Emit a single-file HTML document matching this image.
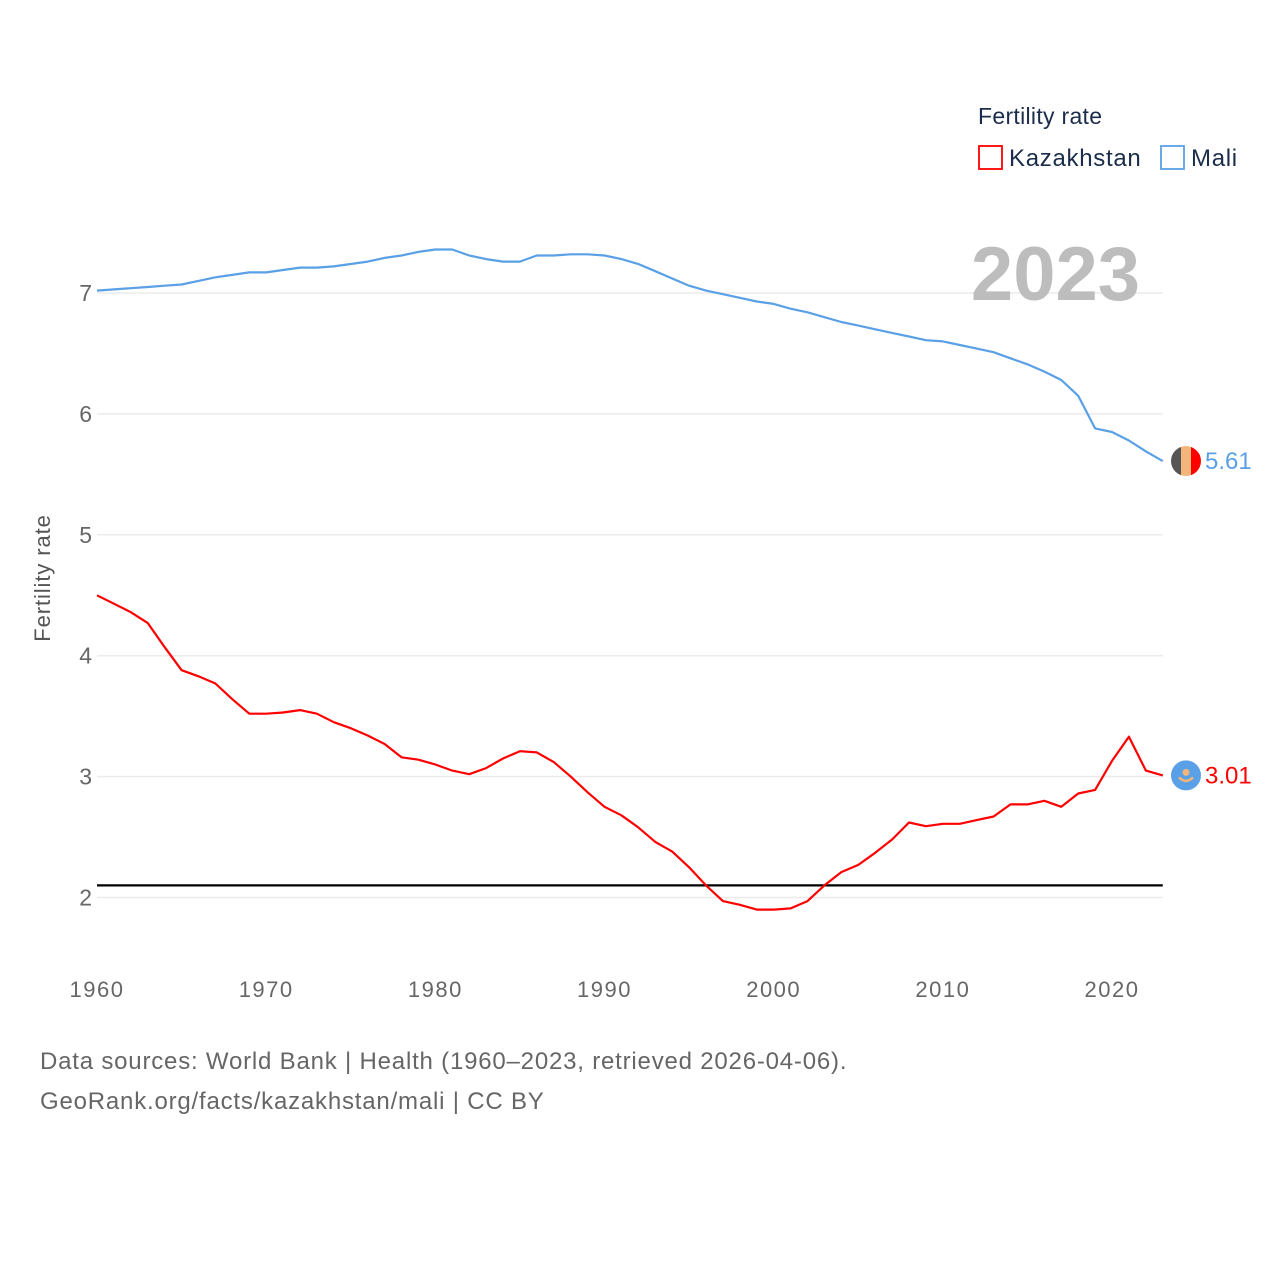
<!DOCTYPE html>
<html><head><meta charset="utf-8"><style>
body{margin:0;background:#fff;}
svg text{font-family:"Liberation Sans",sans-serif;}
</style></head><body>
<svg id="chart" width="1280" height="1280" xmlns="http://www.w3.org/2000/svg">
<rect width="1280" height="1280" fill="#fff"/>
<g id="grid"></g>
<g id="yticks"></g>
<g id="xticks"></g>
<text x="50" y="578" transform="rotate(-90 50 578)" text-anchor="middle" font-size="22" letter-spacing="0.9" fill="#555">Fertility rate</text>
<text x="1140" y="300" text-anchor="end" font-size="76" font-weight="bold" fill="#bdbdbd">2023</text>
<g id="series"></g>
<g>
<text x="978" y="124" font-size="23" letter-spacing="0.3" fill="#1b2d4a">Fertility rate</text>
<g><rect x="979" y="146" width="23" height="23" fill="none" stroke="#f00" stroke-width="1.8"/><text x="1009" y="166" font-size="24" letter-spacing="0.7" fill="#1b2d4a">Kazakhstan</text></g>
<g><rect x="1161" y="146" width="23" height="23" fill="none" stroke="#5aa0e6" stroke-width="1.8"/><text x="1191" y="166" font-size="24" letter-spacing="0.7" fill="#1b2d4a">Mali</text></g>
</g>
<text x="40" y="1069" font-size="24" letter-spacing="0.8" fill="#666">Data sources: World Bank | Health (1960–2023, retrieved 2026-04-06).</text>
<text x="40" y="1109" font-size="24" letter-spacing="0.8" fill="#666">GeoRank.org/facts/kazakhstan/mali | CC BY</text>
</svg>
<script>
const years = [];
for (let y = 1960; y <= 2023; y++) years.push(y);
const maliValues = [7.02,7.03,7.04,7.05,7.06,7.07,7.10,7.13,7.15,7.17,7.17,7.19,7.21,7.21,7.22,7.24,7.26,7.29,7.31,7.34,7.36,7.36,7.31,7.28,7.26,7.26,7.31,7.31,7.32,7.32,7.31,7.28,7.24,7.18,7.12,7.06,7.02,6.99,6.96,6.93,6.91,6.87,6.84,6.80,6.76,6.73,6.70,6.67,6.64,6.61,6.60,6.57,6.54,6.51,6.46,6.41,6.35,6.28,6.15,5.88,5.85,5.78,5.69,5.61];
const kazValues = [4.50,4.43,4.36,4.27,4.07,3.88,3.83,3.77,3.64,3.52,3.52,3.53,3.55,3.52,3.45,3.40,3.34,3.27,3.16,3.14,3.10,3.05,3.02,3.07,3.15,3.21,3.20,3.12,3.00,2.87,2.75,2.68,2.58,2.46,2.38,2.25,2.10,1.97,1.94,1.90,1.90,1.91,1.97,2.10,2.21,2.27,2.37,2.48,2.62,2.59,2.61,2.61,2.64,2.67,2.77,2.77,2.80,2.75,2.86,2.89,3.13,3.33,3.05,3.01];
const yTicks = [2,3,4,5,6,7];
const xTicks = [1960,1970,1980,1990,2000,2010,2020];
const replacementRate = 2.1;
const NS = "http://www.w3.org/2000/svg";
const X0 = 97, PX_PER_YEAR = 16.917, Y7 = 293, PX_PER_UNIT = 120.9;
const xs = y => X0 + (y - 1960) * PX_PER_YEAR;
const ys = v => Y7 + (7 - v) * PX_PER_UNIT;
const xEnd = xs(2023);
function mk(tag, attrs, parent) { const e = document.createElementNS(NS, tag); for (const k in attrs) e.setAttribute(k, attrs[k]); parent.appendChild(e); return e; }
const grid = document.getElementById('grid'), yt = document.getElementById('yticks'), xt = document.getElementById('xticks'), ser = document.getElementById('series');
yTicks.forEach(v => {
  const l = mk('line', {x1: X0, x2: xEnd, y1: ys(v), y2: ys(v), stroke: '#ebebeb', 'stroke-width': 1.5}, grid);
  
  
  const t = mk('text', {x: 92, y: ys(v) + 8, 'text-anchor': 'end', 'font-size': 23, fill: '#666'}, yt);
  t.textContent = v;
  
  
});
xTicks.forEach(y => {
  const t = mk('text', {x: xs(y), y: 997, 'text-anchor': 'middle', 'font-size': 22, 'letter-spacing': 1.5, fill: '#666'}, xt);
  t.textContent = y;
  
  
});
const ref = mk('line', {x1: X0, x2: xEnd, y1: ys(replacementRate), y2: ys(replacementRate), stroke: '#000', 'stroke-width': 2.2}, ser);


function line(vals, color, name) {
  const d = vals.map((v, i) => (i ? 'L' : 'M') + xs(years[i]).toFixed(1) + ' ' + ys(v).toFixed(1)).join(' ');
  const p = mk('path', {d: d, fill: 'none', stroke: color, 'stroke-width': 2.2, 'stroke-linejoin': 'round'}, ser);
  
  
}
line(maliValues, '#5aa0e6', 'mali-line');
line(kazValues, '#ff0000', 'kazakhstan-line');
const mv = maliValues[maliValues.length - 1], kv = kazValues[kazValues.length - 1];
const mg = mk('g', {}, ser);


const cy = ys(mv), cx = 1186;
const clip = mk('clipPath', {id: 'mc'}, mg);
mk('circle', {cx: cx, cy: cy, r: 15}, clip);
mk('rect', {x: cx - 15, y: cy - 15, width: 10, height: 30, fill: '#555', 'clip-path': 'url(#mc)'}, mg);
mk('rect', {x: cx - 5, y: cy - 15, width: 10, height: 30, fill: '#f4b57a', 'clip-path': 'url(#mc)'}, mg);
mk('rect', {x: cx + 5, y: cy - 15, width: 10, height: 30, fill: '#f00', 'clip-path': 'url(#mc)'}, mg);
const ml = mk('text', {x: 1205, y: cy + 8, 'font-size': 24, fill: '#5aa0e6'}, ser);
ml.textContent = mv.toFixed(2);


const kg = mk('g', {}, ser);


const ky = ys(kv);
mk('circle', {cx: cx, cy: ky, r: 15, fill: '#5aa0e6'}, kg);
mk('circle', {cx: cx, cy: ky - 3, r: 3.5, fill: '#f4b57a'}, kg);
mk('path', {d: `M${cx-7} ${ky+2} Q${cx} ${ky+9} ${cx+7} ${ky+2}`, fill: 'none', stroke: '#f4b57a', 'stroke-width': 2.5}, kg);
const kl = mk('text', {x: 1205, y: ky + 8, 'font-size': 24, fill: '#f00'}, ser);
kl.textContent = kv.toFixed(2);


</script>
</body></html>
